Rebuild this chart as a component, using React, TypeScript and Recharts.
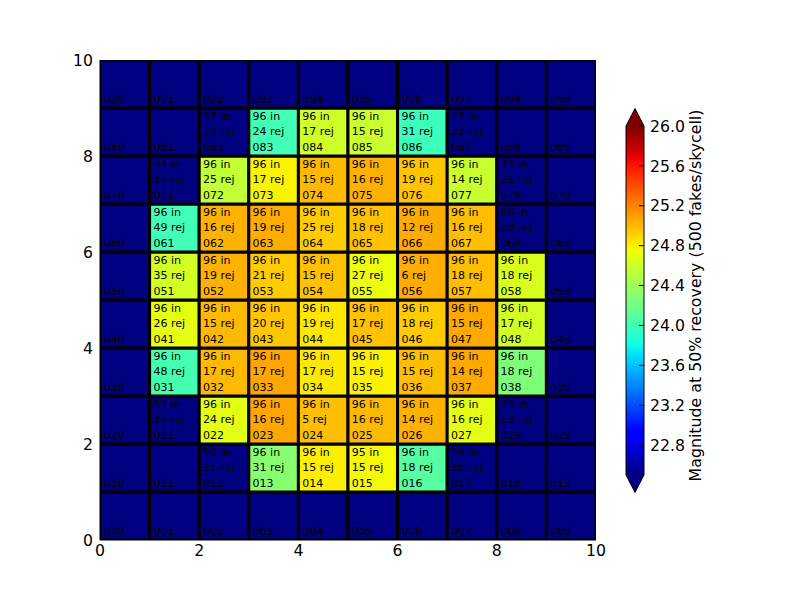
import { ScatterChart, Scatter, XAxis, YAxis, ReferenceArea, BarChart, Bar } from 'recharts';

const COLS = [0, 1, 2, 3, 4, 5, 6, 7, 8, 9];
const ROWS = [0, 1, 2, 3, 4, 5, 6, 7, 8, 9];

// magnitude at 50% recovery, row 0 (bottom) to row 9 (top); null = no result / below range
const MAG_ROWS: (number | null)[][] = [
  [null, null, null, null, null, null, null, null, null, null],
  [null, null, null, 24.3, 24.8, 24.76, 24.09, null, null, null],
  [null, null, 24.69, 25.07, 24.98, 25.0, 25.03, 24.7, null, null],
  [null, 24.02, 25.0, 25.07, 24.82, 24.79, 24.98, 25.06, 24.26, null],
  [null, 24.7, 25.0, 24.95, 24.83, 24.97, 24.93, 25.06, 24.62, null],
  [null, 24.62, 25.02, 24.93, 24.97, 24.73, 25.04, 24.98, 24.65, null],
  [null, 24.0, 25.02, 25.04, 24.93, 24.97, 25.05, 24.98, null, null],
  [null, null, 24.55, 24.78, 25.0, 25.03, 24.95, 24.58, null, null],
  [null, null, null, 24.0, 24.6, 24.58, 23.98, null, null, null],
  [null, null, null, null, null, null, null, null, null, null],
];

// fakes inserted per cell
const IN_ROWS: (number | null)[][] = [
  [null, null, null, null, null, null, null, null, null, null],
  [null, null, 50, 96, 96, 95, 96, 34, null, null],
  [null, 53, 96, 96, 96, 96, 96, 96, 33, null],
  [null, 96, 96, 96, 96, 96, 96, 96, 96, null],
  [null, 96, 96, 96, 96, 96, 96, 96, 96, null],
  [null, 96, 96, 96, 96, 96, 96, 96, 96, null],
  [null, 96, 96, 96, 96, 96, 96, 96, 96, null],
  [null, 44, 96, 96, 96, 96, 96, 96, 43, null],
  [null, null, 37, 96, 96, 96, 96, 43, null, null],
  [null, null, null, null, null, null, null, null, null, null],
];

// rejected per cell
const REJ_ROWS: (number | null)[][] = [
  [null, null, null, null, null, null, null, null, null, null],
  [null, null, 35, 31, 15, 15, 18, 16, null, null],
  [null, 39, 24, 16, 5, 16, 14, 16, 13, null],
  [null, 48, 17, 17, 17, 15, 15, 14, 18, null],
  [null, 26, 15, 20, 19, 17, 18, 15, 17, null],
  [null, 35, 19, 21, 15, 27, 6, 18, 18, null],
  [null, 49, 16, 19, 25, 18, 12, 16, 29, null],
  [null, 39, 25, 17, 15, 16, 19, 14, 21, null],
  [null, null, 29, 24, 17, 15, 31, 22, null, null],
  [null, null, null, null, null, null, null, null, null, null],
];

const AXIS_TICKS = [0, 2, 4, 6, 8, 10];
const CB_TICKS = [22.8, 23.2, 23.6, 24.0, 24.4, 24.8, 25.2, 25.6, 26.0];
const V_MIN = 22.5;
const V_MAX = 26.0;
const CB_LABEL = 'Magnitude at 50% recovery (500 fakes/skycell)';

const FONT = "'DejaVu Sans', sans-serif";

// matplotlib "jet" segment data
const JET_R = [[0, 0], [0.35, 0], [0.66, 1], [0.89, 1], [1, 0.5]];
const JET_G = [[0, 0], [0.125, 0], [0.375, 1], [0.64, 1], [0.91, 0], [1, 0]];
const JET_B = [[0, 0.5], [0.11, 1], [0.34, 1], [0.65, 0], [1, 0]];

function seg(pts: number[][], t: number) {
  for (let i = 1; i < pts.length; i++) {
    if (t <= pts[i][0]) {
      const [t0, v0] = pts[i - 1];
      const [t1, v1] = pts[i];
      return v0 + ((t - t0) / (t1 - t0)) * (v1 - v0);
    }
  }
  return pts[pts.length - 1][1];
}

function jet(t: number) {
  const tt = Math.max(0, Math.min(1, t));
  const c = (p: number[][]) => Math.round(seg(p, tt) * 255);
  return `rgb(${c(JET_R)},${c(JET_G)},${c(JET_B)})`;
}

function magColor(v: number | null) {
  if (v == null || v < V_MIN) return jet(0);
  if (v > V_MAX) return jet(1);
  return jet((v - V_MIN) / (V_MAX - V_MIN));
}

const cells = ROWS.flatMap((r) =>
  COLS.map((c) => ({
    x: c + 0.5,
    y: r + 0.5,
    row: r,
    col: c,
    id: `0${r}${c}`,
    mag: MAG_ROWS[r][c],
    nIn: IN_ROWS[r][c],
    nRej: REJ_ROWS[r][c],
  }))
);

const cbData = [{ name: 'cb', range: [V_MIN, V_MAX] }];
const GRAD_STOPS = Array.from({ length: 65 }, (_, i) => i / 64);

function CellText(props: any) {
  const { cx, cy, payload } = props;
  if (cx == null || cy == null) return null;
  const tx = cx - 21;
  return (
    <g fontFamily={FONT} fontSize={11} fill="#000">
      {payload.nIn != null && <text x={tx} y={cy - 11.8}>{payload.nIn} in</text>}
      {payload.nRej != null && <text x={tx} y={cy + 2.5}>{payload.nRej} rej</text>}
      <text x={tx} y={cy + 19}>{payload.id}</text>
    </g>
  );
}

function ColorbarShape(props: any) {
  const { x, y, width, height } = props;
  const ext = height * 0.05;
  const mid = x + width / 2;
  const outline = `M${x},${y} L${mid},${y - ext} L${x + width},${y} L${x + width},${y + height} L${mid},${y + height + ext} L${x},${y + height} Z`;
  return (
    <g>
      <defs>
        <linearGradient id="jetGrad" x1="0" y1="1" x2="0" y2="0">
          {GRAD_STOPS.map((t) => (
            <stop key={t} offset={`${t * 100}%`} stopColor={jet(t)} />
          ))}
        </linearGradient>
      </defs>
      <path d={`M${x},${y} L${mid},${y - ext} L${x + width},${y} Z`} fill={jet(1)} />
      <path d={`M${x},${y + height} L${mid},${y + height + ext} L${x + width},${y + height} Z`} fill={jet(0)} />
      <rect x={x} y={y} width={width} height={height} fill="url(#jetGrad)" />
      <path d={outline} fill="none" stroke="#000" strokeWidth={1} />
    </g>
  );
}

function CbTick(props: any) {
  const { x, y, payload } = props;
  return (
    <g>
      <line x1={x - 11} x2={x - 6} y1={y} y2={y} stroke="#000" strokeWidth={1} />
      <text x={x} y={y} dy="0.36em" fontFamily={FONT} fontSize={15.7} fill="#000">
        {Number(payload.value).toFixed(1)}
      </text>
    </g>
  );
}

function CbLabel(props: any) {
  const vb = props.viewBox;
  const lx = vb.x + vb.width - 3;
  const ly = vb.y + vb.height / 2 - 5;
  return (
    <text
      x={lx}
      y={ly}
      transform={`rotate(-90, ${lx}, ${ly})`}
      textAnchor="middle"
      fontFamily={FONT}
      fontSize={15.8}
      fill="#000"
    >
      {CB_LABEL}
    </text>
  );
}

const tickStyle = { fill: '#000', fontSize: 15.7, fontFamily: FONT };

export default function App() {
  return (
    <div style={{ position: 'absolute', left: 0, top: 0, width: 800, height: 600, background: '#fff' }}>
      <div style={{ position: 'absolute', left: 0, top: 0 }}>
        <ScatterChart width={800} height={600} margin={{ top: 60, right: 204, bottom: 30, left: 60 }}>
          <XAxis
            type="number"
            dataKey="x"
            domain={[0, 10]}
            ticks={AXIS_TICKS}
            allowDataOverflow
            height={30}
            tickLine={false}
            tickSize={0}
            tickMargin={5}
            axisLine={{ stroke: '#000' }}
            tick={tickStyle}
          />
          <YAxis
            type="number"
            dataKey="y"
            domain={[0, 10]}
            ticks={AXIS_TICKS}
            allowDataOverflow
            width={40}
            tickLine={false}
            tickSize={0}
            tickMargin={7}
            axisLine={{ stroke: '#000' }}
            tick={tickStyle}
          />
          {cells.map((c) => (
            <ReferenceArea
              key={c.id}
              x1={c.col}
              x2={c.col + 1}
              y1={c.row}
              y2={c.row + 1}
              fill={magColor(c.mag)}
              fillOpacity={1}
              stroke="#000"
              strokeWidth={3}
              ifOverflow="hidden"
            />
          ))}
          <Scatter data={cells} isAnimationActive={false} shape={(p: any) => <CellText {...p} />} />
        </ScatterChart>
      </div>
      <div style={{ position: 'absolute', left: 0, top: 0 }}>
        <BarChart
          width={800}
          height={600}
          data={cbData}
          barCategoryGap={0}
          margin={{ top: 126, right: 96, bottom: 125, left: 626 }}
        >
          <XAxis dataKey="name" hide />
          <YAxis
            orientation="right"
            type="number"
            domain={[V_MIN, V_MAX]}
            ticks={CB_TICKS}
            width={60}
            axisLine={false}
            tickLine={false}
            tickSize={0}
            tickMargin={6}
            tick={<CbTick />}
            label={{ content: <CbLabel /> }}
          />
          <Bar dataKey="range" isAnimationActive={false} shape={(p: any) => <ColorbarShape {...p} />} />
        </BarChart>
      </div>
    </div>
  );
}
